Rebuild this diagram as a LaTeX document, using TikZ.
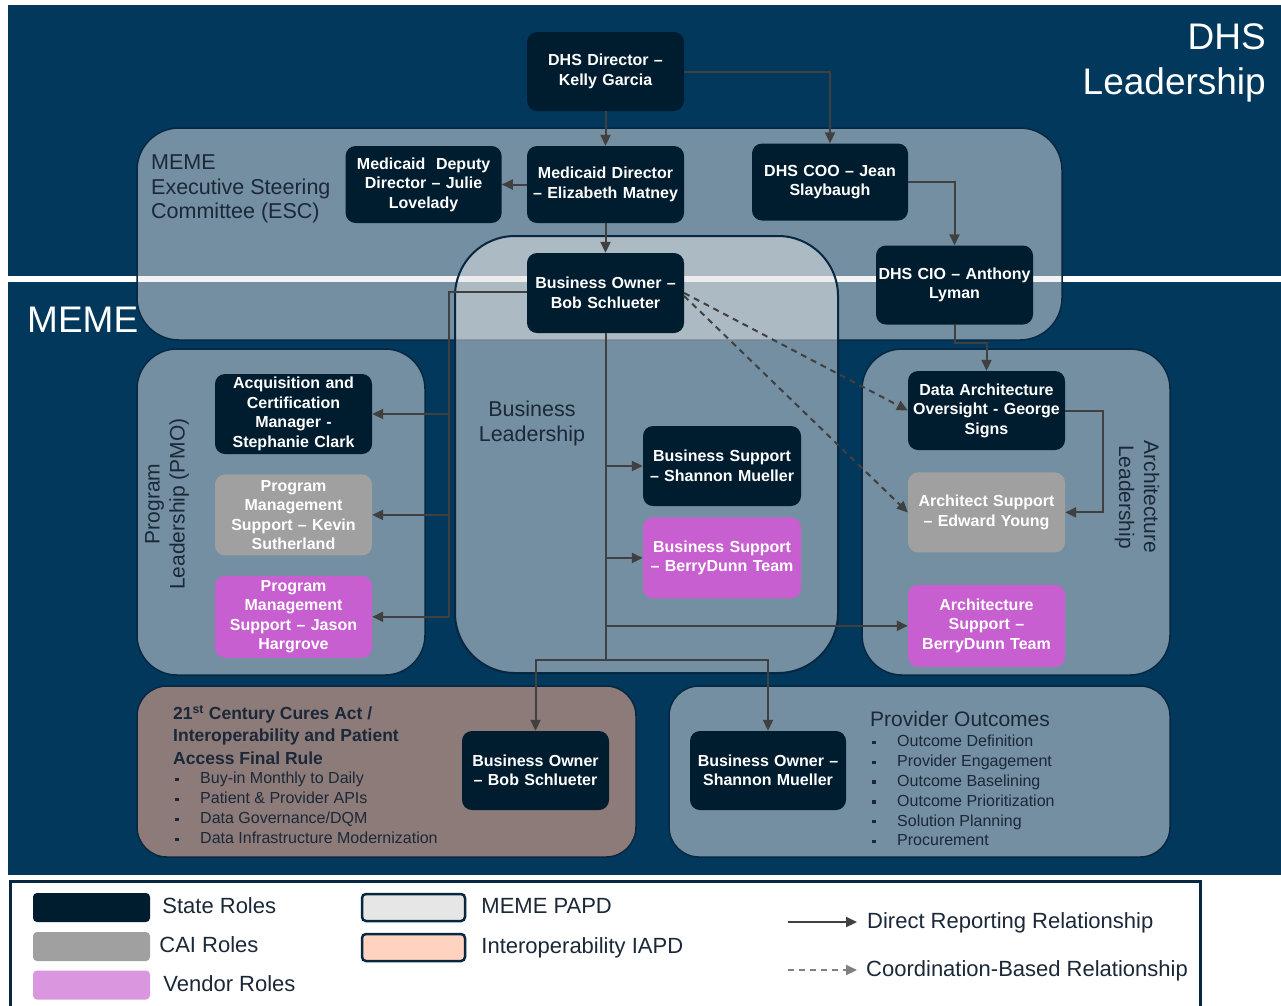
\documentclass[tikz,border=0pt]{standalone}
\usepackage{fontspec}
\setmainfont{Liberation Sans}
\usetikzlibrary{arrows.meta, positioning}
\definecolor{navybg}{RGB}{1,56,92}
\definecolor{navyline}{RGB}{8,40,66}
\definecolor{stateblue}{RGB}{0,29,47}
\definecolor{caigray}{RGB}{160,160,160}
\definecolor{vendpink}{RGB}{200,95,208}
\definecolor{vendlight}{RGB}{218,150,222}
\definecolor{papdgray}{RGB}{230,230,230}
\definecolor{iapdpeach}{RGB}{255,211,192}
\definecolor{curesbrown}{RGB}{141,123,121}
\definecolor{labelink}{RGB}{27,40,56}
\definecolor{linkgray}{RGB}{64,64,64}
\newcommand{\itemsq}{\makebox[25pt][l]{\raisebox{0.3ex}{\rule{3.5pt}{3.5pt}}}}

\begin{document}
\begin{tikzpicture}[x=1pt, y=-1pt,
  box/.style={fill=stateblue, rounded corners=10pt, minimum width=157pt,
              minimum height=79pt, text width=152pt, inner sep=0pt, align=center,
              text=white, font=\bfseries\fontsize{16}{19.5}\selectfont},
  caibox/.style={box, fill=caigray},
  vendbox/.style={box, fill=vendpink},
  panel/.style={fill=papdgray, fill opacity=0.5, draw=navyline, line width=1.5pt},
  lbl/.style={text=labelink, inner sep=0pt, font=\fontsize{21.5}{24.5}\selectfont},
  arr/.style={-{Triangle[length=11pt,width=10pt]}, line width=2pt, draw=linkgray},
  coordarr/.style={arr, dash pattern=on 6pt off 5pt},
  lgdsw/.style={rounded corners=4pt, minimum width=117pt, minimum height=29pt, inner sep=0pt},
  lgdtxt/.style={text=labelink, inner sep=0pt, anchor=west, text height=16pt, text depth=4pt,
                 font=\fontsize{22}{26}\selectfont}]
\useasboundingbox (0,0) rectangle (1281,1005);

% backgrounds
\fill[navybg] (8,5) rectangle (1281,276);
\fill[navybg] (8,282) rectangle (1281,875);
\node[anchor=north east, align=right, text=white, inner sep=0pt,
      font=\fontsize{37}{45}\selectfont] (dhshead) at (1266,23) {DHS\\Leadership};
\node[anchor=west, text=white, inner sep=0pt, font=\fontsize{37}{45}\selectfont]
      (memehead) at (27,320) {MEME};

% panels
\draw[panel, rounded corners=42pt] (137,128) rectangle (1062,340);
\draw[panel, line width=2pt, rounded corners=60pt] (455,236) rectangle (838,673);
\draw[panel, rounded corners=40pt] (137,349) rectangle (425,675);
\draw[panel, rounded corners=40pt] (862,349) rectangle (1170,675);
\draw[fill=curesbrown, draw=navyline, line width=1.5pt, rounded corners=30pt] (137,686) rectangle (636,857);
\draw[panel, rounded corners=30pt] (669,686) rectangle (1170,857);

\node[lbl, anchor=north west, align=left] (esclbl) at (151,155) {MEME\\Executive Steering\\Committee (ESC)};
\node[lbl, anchor=north, align=center] (bllbl) at (532,401) {Business\\Leadership};
\node[lbl, rotate=90, align=center, font=\fontsize{21}{25}\selectfont] (pmolbl) at (167,504) {Program\\Leadership (PMO)};
\node[lbl, rotate=-90, align=center, font=\fontsize{21}{25}\selectfont] (archlbl) at (1137,497) {Architecture\\Leadership};
\node[lbl, anchor=north west, align=left, font=\bfseries\fontsize{17.5}{22.5}\selectfont] (cureslbl) at (173,705)
  {21\textsuperscript{st} Century Cures Act /\\Interoperability and Patient\\Access Final Rule};
\node[lbl, anchor=north west, align=left, font=\fontsize{16}{20}\selectfont] (cureslist) at (175,772)
  {\itemsq Buy-in Monthly to Daily\\\itemsq Patient \& Provider APIs\\\itemsq Data Governance/DQM\\\itemsq Data Infrastructure Modernization};
\node[lbl, anchor=north west, font=\fontsize{21}{25}\selectfont] (provlbl) at (870,711) {Provider Outcomes};
\node[lbl, anchor=north west, align=left, font=\fontsize{16}{19.8}\selectfont] (provlist) at (872,735)
  {\itemsq Outcome Definition\\\itemsq Provider Engagement\\\itemsq Outcome Baselining\\\itemsq Outcome Prioritization\\\itemsq Solution Planning\\\itemsq Procurement};

% roles
\node[box] (dhsdir) at (605.5,71.5) {DHS Director –\\Kelly Garcia};
\node[box, minimum height=77pt] (meddir) at (605.5,184.5) {Medicaid Director\\– Elizabeth Matney};
\node[box, minimum width=156pt, minimum height=77pt, left=25pt of meddir] (depdir) {Medicaid~ Deputy\\Director – Julie\\Lovelady};
\node[box, minimum width=156pt, minimum height=77pt] (coo) at (830,182) {DHS COO – Jean\\Slaybaugh};
\node[box] (cio) at (954.5,285) {DHS CIO – Anthony\\Lyman};
\node[box, minimum height=80pt] (bo) at (605.5,293) {Business Owner –\\Bob Schlueter};
\node[box, minimum height=80pt] (acq) at (293.5,414) {Acquisition and\\Certification\\Manager -\\Stephanie Clark};
\node[caibox, minimum height=81pt, below=20pt of acq] (pmsk) {Program\\Management\\Support – Kevin\\Sutherland};
\node[vendbox, minimum height=82pt, below=20pt of pmsk] (pmsj) {Program\\Management\\Support – Jason\\Hargrove};
\node[box, minimum width=158pt, minimum height=80pt] (bss) at (722,466) {Business Support\\– Shannon Mueller};
\node[vendbox, minimum width=158pt, minimum height=81pt, below=11pt of bss] (bsb) {Business Support\\– BerryDunn Team};
\node[box] (dao) at (986.5,410.5) {Data Architecture\\Oversight - George\\Signs};
\node[caibox, minimum height=80pt, below=22pt of dao] (asy) {Architect Support\\– Edward Young};
\node[vendbox, minimum height=82pt, below=32pt of asy] (asb) {Architecture\\Support –\\BerryDunn Team};
\node[box, minimum width=147pt, text width=142pt] (bob) at (535.5,770.5) {Business Owner\\– Bob Schlueter};
\node[box, minimum width=156pt] (bosm) at (768,770.5) {Business Owner –\\Shannon Mueller};

% reporting lines
\draw[arr] (dhsdir) -- (meddir);
\draw[arr] (dhsdir.east) -| (coo.north);
\draw[arr] (meddir) -- (depdir);
\draw[arr] (meddir) -- (bo);
\draw[arr] (coo.east) -| (cio.north);
\coordinate (ciojog) at (954.5,343);
\draw[arr] (cio.south) -- (ciojog) -| (dao.north);
\draw[arr] (dao.east) -- ++(38,0) |- (asy.east);
\coordinate (pmobus) at (449,292);
\draw[arr, -] (bo.west |- pmobus) -- (pmobus) -- (pmobus |- pmsj);
\draw[arr] (pmobus |- acq) -- (acq.east);
\draw[arr] (pmobus |- pmsk) -- (pmsk.east);
\draw[arr] (pmobus |- pmsj) -- (pmsj.east);
\coordinate (bospine) at (605.5,660);
\draw[arr, -] (bo.south) -- (bospine);
\draw[arr] (bo.south |- bss) -- (bss.west);
\draw[arr] (bo.south |- bsb) -- (bsb.west);
\draw[arr] (bo.south |- asb) -- (asb.west);
\draw[arr] (bospine) -| (bob.north);
\draw[arr] (bospine) -| (bosm.north);
\draw[coordarr] (bo.east) -- (dao.west);
\draw[coordarr] ([yshift=-3pt]bo.east) -- (asy.west);

% legend
\draw[line width=3pt, draw=navyline, fill=white] (10,881) rectangle (1200,1012);
\node[lgdsw, fill=stateblue] (swstate) at (91.5,907.5) {};
\node[lgdsw, fill=caigray] (swcai) at (91.5,946.5) {};
\node[lgdsw, fill=vendlight] (swvend) at (91.5,985) {};
\node[lgdsw, minimum width=103pt, minimum height=27pt, fill=papdgray, draw=navyline, line width=2.5pt] (swpapd) at (413.5,907.5) {};
\node[lgdsw, minimum width=103pt, minimum height=27pt, fill=iapdpeach, draw=navyline, line width=2.5pt] (swiapd) at (413.5,947.5) {};
\node[lgdtxt, right=12pt of swstate] (txstate) {State Roles};
\node[lgdtxt, right=9pt of swcai] (txcai) {CAI Roles};
\node[lgdtxt, right=13pt of swvend] (txvend) {Vendor Roles};
\node[lgdtxt, right=15pt of swpapd] (txpapd) {MEME PAPD};
\node[lgdtxt, right=15pt of swiapd] (txiapd) {Interoperability IAPD};
\coordinate (lgdsolid) at (788,922);
\coordinate (lgddash) at (788,970);
\node[lgdtxt, inner xsep=10pt] (txdirect) at (857,922) {Direct Reporting Relationship};
\node[lgdtxt, inner xsep=9pt] (txcoord) at (857,970) {Coordination-Based Relationship};
\draw[arr] (lgdsolid) -- (txdirect.west);
\draw[coordarr, draw=gray] (lgddash) -- (txcoord.west);
\end{tikzpicture}
\end{document}
